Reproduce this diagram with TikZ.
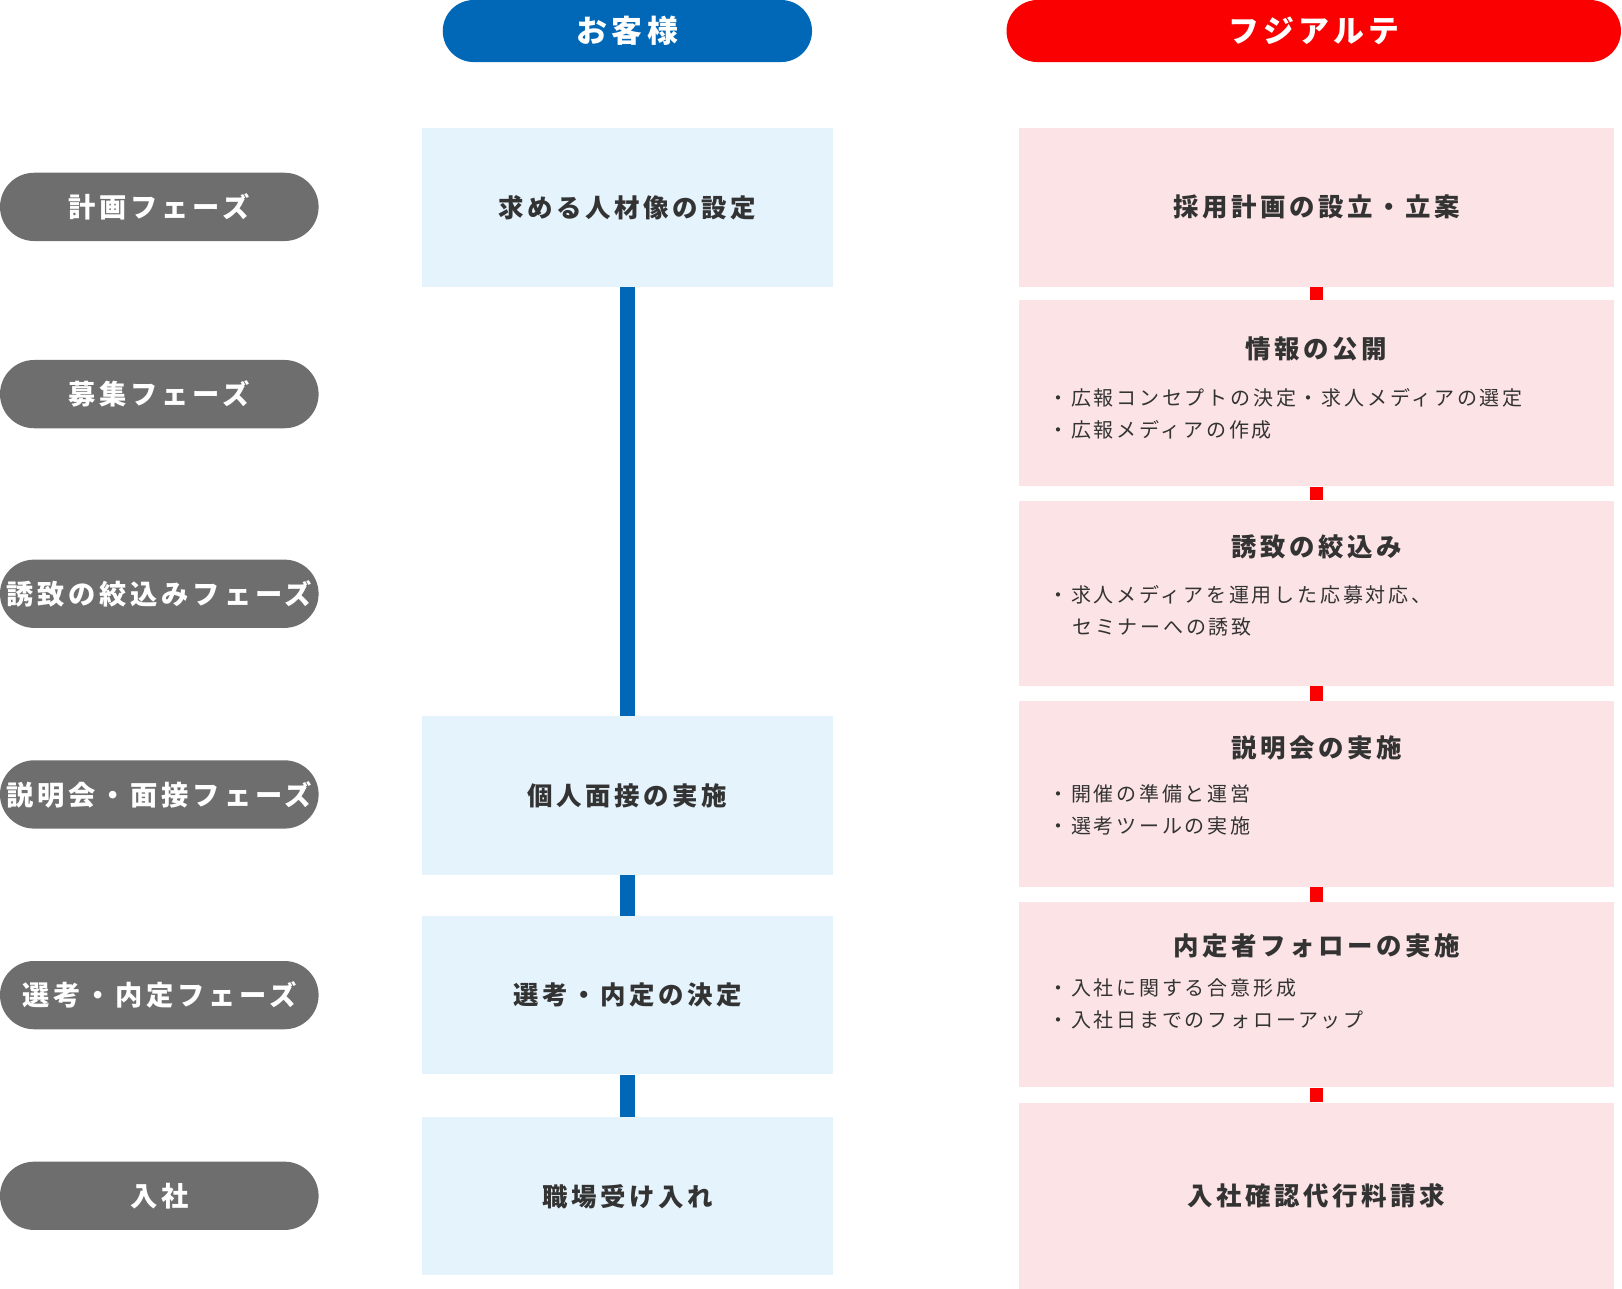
\documentclass[tikz,border=0pt]{standalone}
\usepackage{fontspec}
\newfontfamily\jpfont[LetterSpace=14]{Noto Sans CJK JP}
\usetikzlibrary{positioning}
\definecolor{kblue}{HTML}{0068B7}
\definecolor{kred}{HTML}{FA0000}
\definecolor{kgray}{HTML}{6E6E6E}
\definecolor{lblue}{HTML}{E5F3FD}
\definecolor{lred}{HTML}{FCE4E6}
\definecolor{ktext}{HTML}{333333}
\tikzset{
  pill/.style={rounded corners=33*0.02cm, minimum height=66*0.02cm, text=white, font=\jpfont\bfseries\fontsize{15}{18}\selectfont, inner sep=0pt},
  phase/.style={pill, fill=kgray, minimum width=308*0.02cm},
  cbox/.style={fill=lblue, minimum width=397*0.02cm, minimum height=153*0.02cm, text=ktext, font=\jpfont\bfseries\fontsize{14}{17}\selectfont, inner sep=0pt},
  rbox/.style={fill=lred, minimum width=575*0.02cm, text=ktext, font=\jpfont\bfseries\fontsize{14}{17}\selectfont, inner sep=0pt},
  rtitle/.style={text=ktext, font=\jpfont\bfseries\fontsize{14}{17}\selectfont},
  rlist/.style={anchor=north west, text=ktext, align=left, font=\jpfont\fontsize{11}{17.5}\selectfont, inner sep=0pt},
  bline/.style={kblue, line width=14*0.02cm},
  rlink/.style={kred, line width=13*0.02cm},
}
\begin{document}
\begin{tikzpicture}[x=0.02cm, y=-0.02cm]
  \useasboundingbox (0,0) rectangle (1568,1246);
  % headers
  \node[pill, fill=kblue, minimum width=357*0.02cm, minimum height=60*0.02cm, rounded corners=30*0.02cm, font=\jpfont\bfseries\fontsize{17}{20}\selectfont] (client) at (606.5,30) {お客様};
  \node[pill, fill=kred, minimum width=594*0.02cm, minimum height=60*0.02cm, rounded corners=30*0.02cm, font=\jpfont\bfseries\fontsize{17}{20}\selectfont] (fuji) at (1270,30) {フジアルテ};
  % phases
  \node[phase] (p1) at (154,200) {計画フェーズ};
  \node[phase] (p2) at (154,381) {募集フェーズ};
  \node[phase] (p3) at (154,574) {誘致の絞込みフェーズ};
  \node[phase] (p4) at (154,768) {説明会・面接フェーズ};
  \node[phase] (p5) at (154,962) {選考・内定フェーズ};
  \node[phase] (p6) at (154,1156) {入社};
  % client column
  \node[cbox] (c1) at (606.5,200.5) {求める人材像の設定};
  \node[cbox] (c2) at (606.5,769) {個人面接の実施};
  \node[cbox] (c3) at (606.5,962) {選考・内定の決定};
  \node[cbox] (c4) at (606.5,1156.5) {職場受け入れ};
  \draw[bline] (c1.south) -- (c2.north);
  \draw[bline] (c2.south) -- (c3.north);
  \draw[bline] (c3.south) -- (c4.north);
  % agency column
  \node[rbox, minimum height=153*0.02cm] (r1) at (1272.5,200.5) {採用計画の設立・立案};
  \node[rbox, minimum height=180*0.02cm] (r2) at (1272.5,380) {};
  \node[rbox, minimum height=179*0.02cm] (r3) at (1272.5,573.5) {};
  \node[rbox, minimum height=179*0.02cm] (r4) at (1272.5,767.5) {};
  \node[rbox, minimum height=179*0.02cm] (r5) at (1272.5,961.5) {};
  \node[rbox, minimum height=180*0.02cm] (r6) at (1272.5,1156) {入社確認代行料請求};
  \node[rtitle] (t2) at (1272.5,337) {情報の公開};
  \node[rlist] (l2) at (1013,375) {・広報コンセプトの決定・求人メディアの選定\\・広報メディアの作成};
  \node[rtitle] (t3) at (1272.5,529) {誘致の絞込み};
  \node[rlist] (l3) at (1013,566) {・求人メディアを運用した応募対応、\\\hspace*{1.2em}セミナーへの誘致};
  \node[rtitle] (t4) at (1272.5,723) {説明会の実施};
  \node[rlist] (l4) at (1013,758) {・開催の準備と運営\\・選考ツールの実施};
  \node[rtitle] (t5) at (1272.5,914) {内定者フォローの実施};
  \node[rlist] (l5) at (1013,946) {・入社に関する合意形成\\・入社日までのフォローアップ};
  \draw[rlink] (r1.south) -- (r2.north);
  \draw[rlink] (r2.south) -- (r3.north);
  \draw[rlink] (r3.south) -- (r4.north);
  \draw[rlink] (r4.south) -- (r5.north);
  \draw[rlink] (r5.south) -- (r6.north);
\end{tikzpicture}
\end{document}
